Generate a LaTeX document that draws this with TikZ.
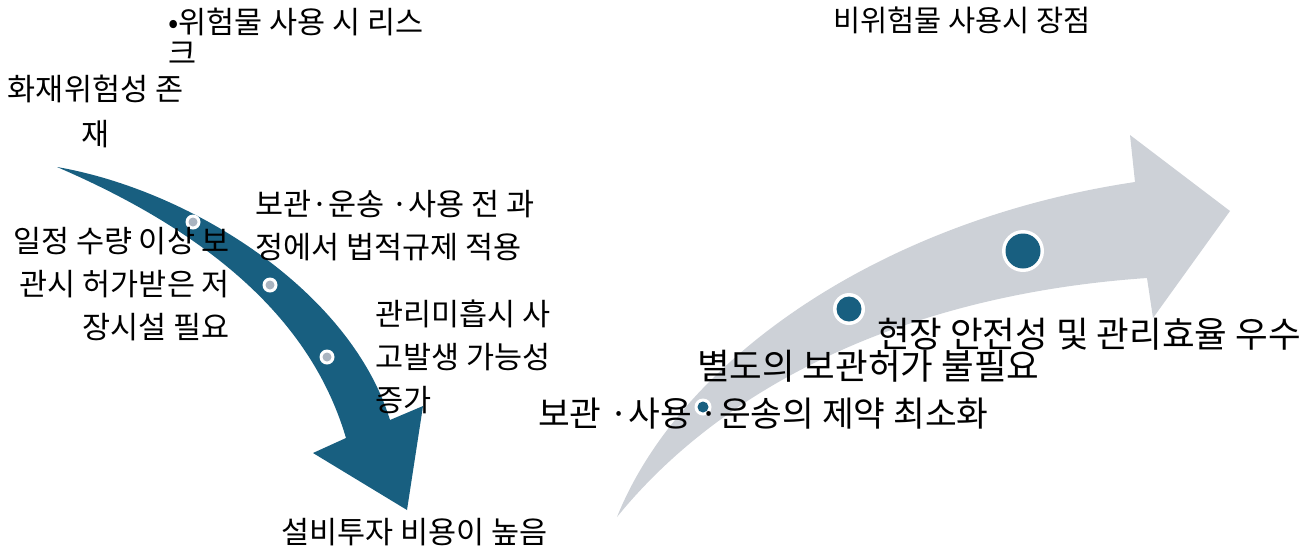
\documentclass[tikz,border=0pt]{standalone}
\usepackage{fontspec}
\setmainfont{Noto Sans CJK KR}
\definecolor{arrowblue}{RGB}{24,95,128}
\definecolor{arrowgrey}{RGB}{205,209,215}
\definecolor{dotgrey}{RGB}{170,180,192}
\begin{document}
\begin{tikzpicture}[x=1pt,y=-1pt,
  lbl/.style={inner sep=0pt, outer sep=0pt, text=black},
  fsl/.style={font=\fontsize{30.5}{43}\selectfont},
  fsr/.style={font=\fontsize{35.5}{40}\selectfont},
]
\useasboundingbox (0,0) rectangle (1307,550);

% left (blue) curved arrow
\fill[arrowblue] (57,167) .. controls (190,190) and (350,290) .. (390,420)
  -- (423,406) -- (407,510) -- (313,453) -- (346,438)
  .. controls (320,350) and (250,250) .. (57,167) -- cycle;
\foreach \p in {(193,222),(270,285),(327,357)}{
  \fill[white] \p circle (7.5);
  \fill[dotgrey] \p circle (4.5);
}

% right (grey) curved arrow
\fill[arrowgrey] (617,517) .. controls (680,360) and (880,220) .. (1135,182)
  -- (1130,135) -- (1230,211) -- (1153,318) -- (1147,278)
  .. controls (900,295) and (720,390) .. (617,517) -- cycle;
\fill[white] (703,407) circle (8.5);
\fill[arrowblue] (703,407) circle (5.5);
\fill[white] (849,309) circle (16);
\fill[arrowblue] (849,309) circle (12.5);
\fill[white] (1023,251) circle (21);
\fill[arrowblue] (1023,251) circle (17.5);

% texts
\node[lbl, anchor=north west, align=left, font=\fontsize{30.5}{31}\selectfont] (t1) at (168,8) {•위험물 사용 시 리스\\크};
\node[lbl, anchor=north, align=center, font=\fontsize{30.5}{45}\selectfont] (t2) at (95.5,75) {화재위험성 존\\재};
\node[lbl, fsl, anchor=north west, align=left] (t3) at (255,190) {보관·운송 ·사용 전 과\\정에서 법적규제 적용};
\node[lbl, fsl, anchor=north east, align=right] (t4) at (230,227) {일정 수량 이상 보\\관시 허가받은 저\\장시설 필요};
\node[lbl, fsl, anchor=north west, align=left] (t5) at (375,300) {관리미흡시 사\\고발생 가능성\\증가};
\node[lbl, fsl, anchor=north west] (t6) at (281,518) {설비투자 비용이 높음};
\node[lbl, anchor=north west, font=\fontsize{29.5}{36}\selectfont] (t7) at (833,7) {비위험물 사용시 장점};
\node[lbl, fsr, anchor=north west] (t8) at (877,318) {현장 안전성 및 관리효율 우수};
\node[lbl, fsr, anchor=north west] (t9) at (697,350) {별도의 보관허가 불필요};
\node[lbl, anchor=north west, font=\fontsize{34.5}{40}\selectfont] (t10) at (538,398) {보관 ·사용 ·운송의 제약 최소화};
\end{tikzpicture}
\end{document}
